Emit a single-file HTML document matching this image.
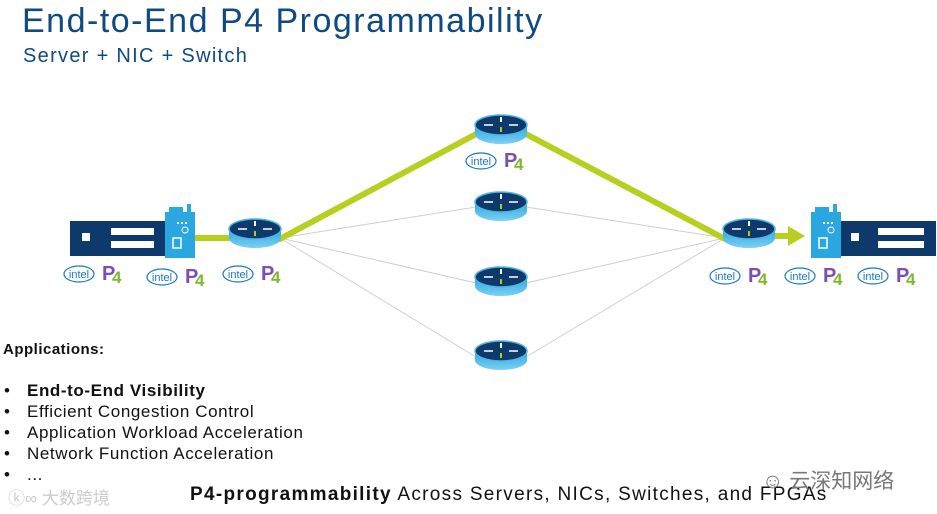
<!DOCTYPE html>
<html><head><meta charset="utf-8"><style>
html,body{margin:0;padding:0;background:#fff;}
body{width:937px;height:514px;position:relative;overflow:hidden;font-family:"Liberation Sans","Noto Sans CJK SC",sans-serif;}
.t{position:absolute;white-space:nowrap;}
.b{position:absolute;left:4px;font-size:17px;letter-spacing:0.6px;color:#111;white-space:nowrap;}
.b span{position:absolute;left:23px;top:0;}
</style></head><body>
<svg width="937" height="514" style="position:absolute;left:0;top:0">
<defs>
<linearGradient id="cyl" x1="0" x2="0" y1="0" y2="1"><stop offset="0" stop-color="#2aa7e0"/><stop offset="1" stop-color="#7cd0f2"/></linearGradient>
<g id="rt">
<path d="M-26,0 L-26,9 A26,10 0 0 0 26,9 L26,0 Z" fill="url(#cyl)"/>
<ellipse cx="0" cy="0" rx="26" ry="10" fill="#0d3a6b" stroke="#4fb7e6" stroke-width="1.5"/>
<path d="M-17,0 h9 M17,0 h-9" stroke="#fff" stroke-width="1.5"/>
<path d="M0,-3 v-5" stroke="#fff" stroke-width="2"/>
<path d="M0,2 v5" stroke="#b5c820" stroke-width="2"/>
</g>
<g id="lbl">
<ellipse cx="0" cy="0" rx="15" ry="8" fill="none" stroke="#1a78c2" stroke-width="1.2"/>
<text x="0" y="4" font-size="11" fill="#1a78c2" text-anchor="middle" font-family="Liberation Sans">intel</text>
<text x="23" y="6" font-size="20" font-weight="bold" fill="#7a4fb0" font-family="Liberation Sans">P</text>
<text x="33" y="9" font-size="17" font-weight="bold" fill="#7fb830" font-family="Liberation Sans">4</text>
</g>
<g id="nic">
<rect x="0" y="0" width="30" height="46" fill="#2aa7e0"/>
<rect x="22" y="-8" width="4" height="10" fill="#2aa7e0"/>
<rect x="4" y="-5" width="14" height="6" fill="#2aa7e0"/>
<rect x="8" y="26" width="8" height="10" fill="none" stroke="#fff" stroke-width="1.5"/>
<circle cx="20" cy="18" r="3" fill="none" stroke="#fff"/>
<path d="M12,11 h12" stroke="#fff" stroke-dasharray="2,2" stroke-width="2"/>
</g>
</defs>
<g stroke="#cfcfcf" stroke-width="1">
<line x1="280" y1="238" x2="476" y2="207"/><line x1="280" y1="238" x2="476" y2="283"/><line x1="280" y1="238" x2="476" y2="357"/>
<line x1="526" y1="207" x2="725" y2="238"/><line x1="526" y1="283" x2="725" y2="238"/><line x1="526" y1="357" x2="725" y2="238"/>
</g>
<g stroke="#b9cf1f" stroke-width="6">
<line x1="195" y1="238" x2="232" y2="238"/>
<line x1="278" y1="240" x2="478" y2="133"/>
<line x1="524" y1="133" x2="727" y2="240"/>
<line x1="770" y1="236" x2="790" y2="236"/>
</g>
<polygon points="788,226 805,236 788,246" fill="#b9cf1f"/>
<rect x="70" y="221" width="96" height="35" fill="#0d3a6b"/>
<rect x="82" y="233" width="8" height="8" fill="#fff"/>
<rect x="111" y="228" width="43" height="7" fill="#fff"/>
<rect x="111" y="241" width="43" height="7" fill="#fff"/>
<use href="#nic" x="165" y="212"/>
<rect x="840" y="221" width="96" height="35" fill="#0d3a6b"/>
<rect x="851" y="233" width="8" height="8" fill="#fff"/>
<rect x="878" y="228" width="46" height="7" fill="#fff"/>
<rect x="878" y="241" width="46" height="7" fill="#fff"/>
<use href="#nic" x="811" y="212"/>
<use href="#rt" x="255" y="229"/>
<use href="#rt" x="501" y="125"/>
<use href="#rt" x="501" y="202"/>
<use href="#rt" x="501" y="277"/>
<use href="#rt" x="501" y="351"/>
<use href="#rt" x="749" y="229"/>
<use href="#lbl" x="79" y="274"/>
<use href="#lbl" x="162" y="277"/>
<use href="#lbl" x="238" y="274"/>
<use href="#lbl" x="481" y="161"/>
<use href="#lbl" x="725" y="276"/>
<use href="#lbl" x="800" y="276"/>
<use href="#lbl" x="873" y="276"/>
</svg>
<div class="t" style="left:22px;top:2px;font-size:34px;letter-spacing:1.5px;color:#0f4a80">End-to-End P4 Programmability</div>
<div class="t" style="left:23px;top:45px;font-size:20px;letter-spacing:1.3px;color:#0f4a80">Server + NIC + Switch</div>
<div class="t" style="left:3px;top:341px;font-size:15px;letter-spacing:0.5px;font-weight:bold;color:#111">Applications:</div>
<div class="b" style="top:381px">•<span><b>End-to-End Visibility</b></span></div>
<div class="b" style="top:402px">•<span>Efficient Congestion Control</span></div>
<div class="b" style="top:423px">•<span>Application Workload Acceleration</span></div>
<div class="b" style="top:444px">•<span>Network Function Acceleration</span></div>
<div class="b" style="top:465px">•<span>...</span></div>
<div class="t" style="left:8px;top:484px;font-size:17px;color:#ccc">ⓚ∞ 大数跨境</div>
<div class="t" style="left:190px;top:484px;font-size:19px;letter-spacing:1.3px;color:#111"><b>P4-programmability</b> Across Servers, NICs, Switches, and FPGAs</div>
<div class="t" style="left:762px;top:465px;font-size:21px;color:#777">☺ 云深知网络</div>
</body></html>
